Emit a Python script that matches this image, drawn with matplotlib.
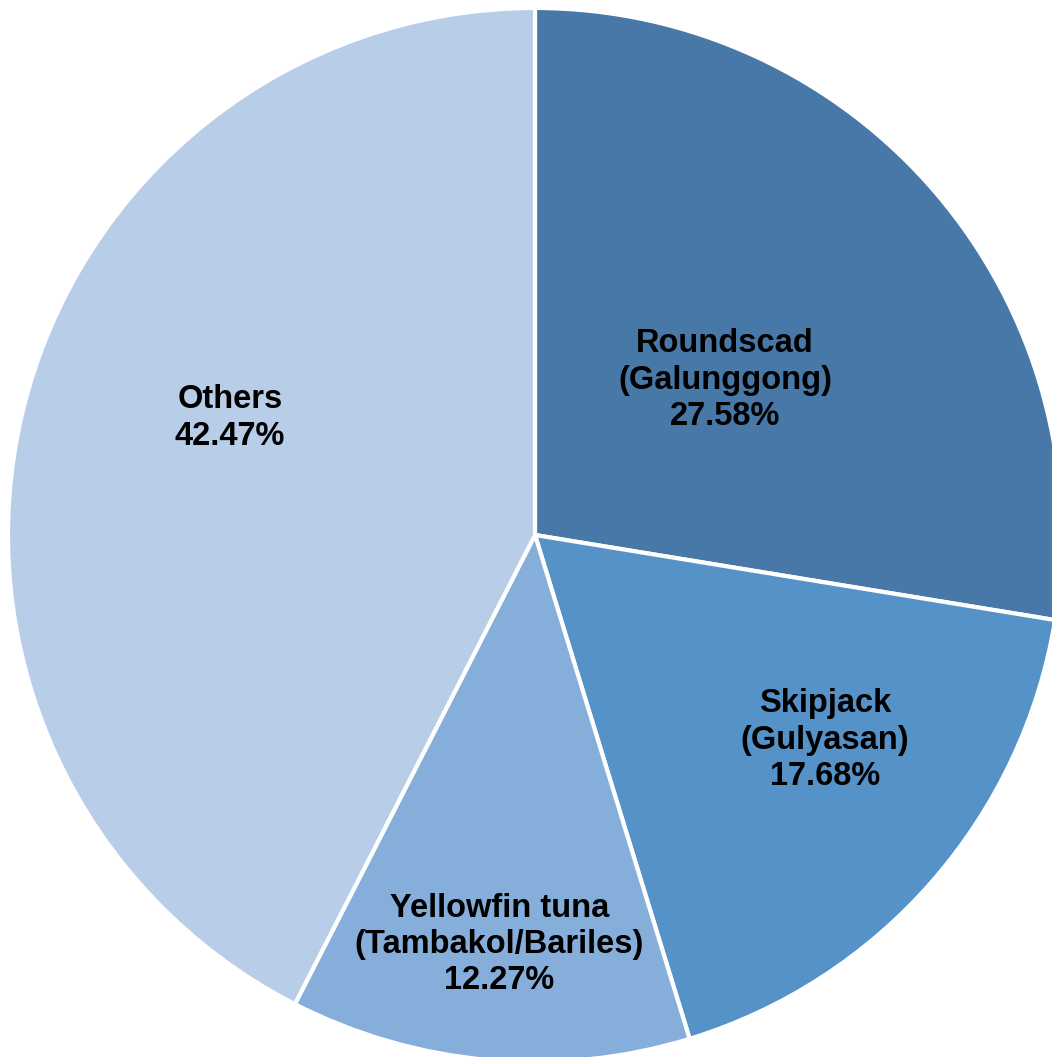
import numpy as np
import matplotlib.pyplot as plt

labels = ["Roundscad\n(Galunggong)", "Skipjack\n(Gulyasan)",
          "Yellowfin tuna\n(Tambakol/Bariles)", "Others"]
shares = [27.58, 17.68, 12.27, 42.47]
colors = ["#4778A8", "#5592C8", "#86AEDB", "#B8CDE8"]

# where Excel put each label: (distance from centre as fraction of radius, angle in degrees)
label_pos = [(0.465, 39.2), (0.674, -35.3), (0.78, -95.0), (0.62, 159.0)]

W, H = 1052, 1057
cx, cy, r = 535, 535, 527

fig = plt.figure(figsize=(W / 100, H / 100), dpi=100)
ax = fig.add_axes([0, 0, 1, 1])
ax.pie(shares, colors=colors, startangle=90, counterclock=False, radius=1,
       wedgeprops=dict(edgecolor="white", linewidth=3))
ax.set_xlim(-cx / r, (W - cx) / r)
ax.set_ylim(-(H - cy) / r, cy / r)
ax.set_aspect("auto")
ax.axis("off")

for lab, val, (d, a) in zip(labels, shares, label_pos):
    t = np.deg2rad(a)
    ax.text(d * np.cos(t), d * np.sin(t), f"{lab}\n{val:.2f}%",
            ha="center", va="center", fontsize=23.5, fontweight="bold",
            family="Liberation Sans", linespacing=1.22, color="black")

fig.savefig("out.png", dpi=100)
